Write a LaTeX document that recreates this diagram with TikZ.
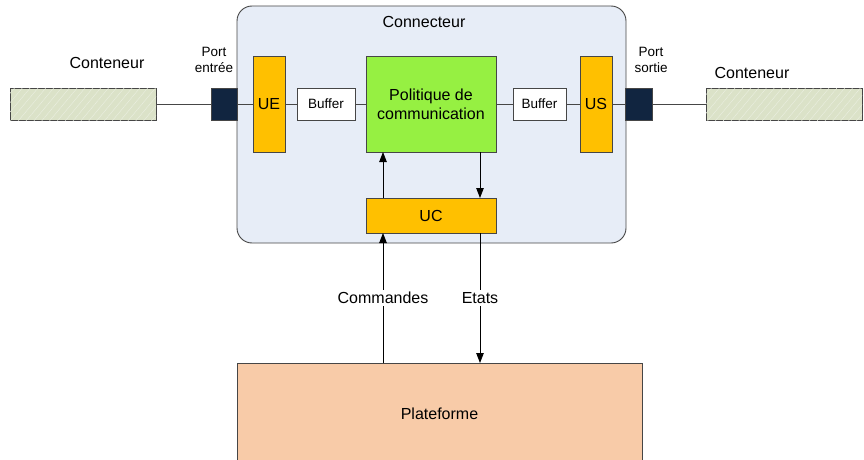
\documentclass[tikz,border=0pt]{standalone}
\usepackage{fontspec}
\setmainfont{Liberation Sans}
\usetikzlibrary{arrows.meta,positioning,patterns.meta}
\definecolor{cConn}{RGB}{231,237,247}
\definecolor{cUnit}{RGB}{255,192,0}
\definecolor{cPol} {RGB}{150,240,66}
\definecolor{cPlat}{RGB}{248,203,168}
\definecolor{cPort}{RGB}{17,37,64}
\definecolor{cCont}{RGB}{219,226,200}
\definecolor{cEdge}{RGB}{70,70,70}

\begin{document}
\begin{tikzpicture}[
    x=1pt, y=-1pt,
    big/.style={font=\fontsize{16}{19}\selectfont},
    small/.style={font=\fontsize{13.5}{16}\selectfont, align=center},
    box/.style={rectangle, draw=cEdge, line width=0.9pt, inner sep=0pt,
                outer sep=0pt, big},
    unit/.style={box, fill=cUnit, minimum width=32pt, minimum height=96pt},
    buf/.style={box, fill=white, minimum height=32pt, small},
    port/.style={box, fill=cPort, minimum height=32pt},
    cont/.style={box, fill=cCont, minimum height=32pt,
                 postaction={pattern={Lines[angle=50,distance=6pt,line width=0.4pt]},
                             pattern color=white!45!cCont}},
    link/.style={draw=cEdge, line width=0.9pt},
    flow/.style={-{Triangle[length=10pt,width=7.5pt]}, line width=0.9pt},
]
\useasboundingbox (0,0) rectangle (864,460);

% --- Connector frame
\node[box, fill=cConn, rounded corners=15pt, minimum width=389pt,
      minimum height=237pt] (conn) at (431.5,124.5) {};
\node[big] (connlbl) at (424,22) {Connecteur};

% --- Inside the connector
\node[unit] (ue) at (269,104) {UE};
\node[buf, minimum width=58pt] (bufin) at (326,104) {Buffer};
\node[box, fill=cPol, minimum width=130pt, minimum height=96pt,
      align=center] (pol) at (431,104) {Politique de\\communication};
\node[buf, minimum width=53pt] (bufout) at (539.5,104) {Buffer};
\node[unit] (us) at (596,104) {US};
\node[box, fill=cUnit, minimum width=130pt, minimum height=35pt] (uc)
    at (431,215.5) {UC};

% --- Ports and containers
\node[port, minimum width=26pt] (portin) at (224,104) {};
\node[port, minimum width=27pt] (portout) at (638.5,104) {};
\node[small] (portinlbl) at (214,60) {Port\\entrée};
\node[small] (portoutlbl) at (651,60) {Port\\sortie};
\node[cont, minimum width=146pt] (contin) at (83,104) {};
\node[cont, minimum width=156pt] (contout) at (784,104) {};
\node[big] (continlbl) at (107,63) {Conteneur};
\node[big] (contoutlbl) at (752,73) {Conteneur};

% --- Platform
\node[box, fill=cPlat, minimum width=405pt, minimum height=102pt] (plat)
    at (439.5,414) {Plateforme};

% --- Data path
\draw[link] (contin) -- (portin);
\draw[link] (portin) -- (ue);
\draw[link] (ue) -- (bufin);
\draw[link] (bufin) -- (pol);
\draw[link] (pol) -- (bufout);
\draw[link] (bufout) -- (us);
\draw[link] (us) -- (portout);
\draw[link] (portout) -- (contout);

% --- Control path
\coordinate (cmdx) at (383,0);
\coordinate (etx) at (480,0);
\draw[flow] (uc.north -| cmdx) -- (pol.south -| cmdx);
\draw[flow] (pol.south -| etx) -- (uc.north -| etx);
\draw[flow] (plat.north -| cmdx) -- (uc.south -| cmdx)
    node[midway, fill=white, big, inner sep=2pt] (cmdlbl) {Commandes};
\draw[flow] (uc.south -| etx) -- (plat.north -| etx)
    node[midway, fill=white, big, inner sep=2pt] (etlbl) {Etats};
\end{tikzpicture}
\end{document}
